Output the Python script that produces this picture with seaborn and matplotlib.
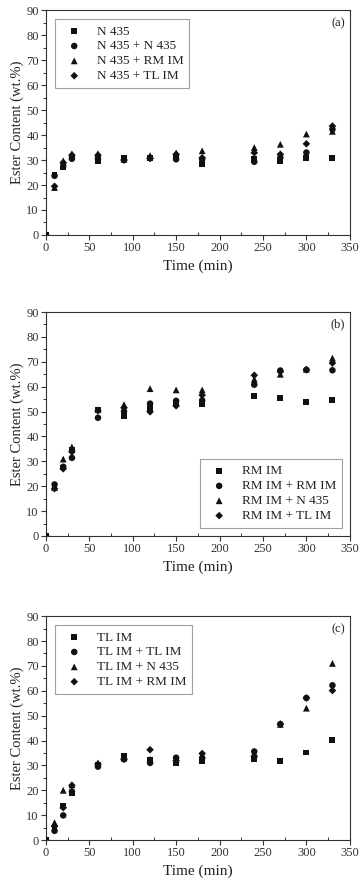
import pandas as pd
import numpy as np
import seaborn as sns
from matplotlib import pyplot as plt
from matplotlib.ticker import MultipleLocator

# sampling times (min), shared by every panel
time_min = [0, 10, 20, 30, 60, 90, 120, 150, 180, 240, 270, 300, 330]

# panel (a): N 435 based runs
a_labels = ['N 435', 'N 435 + N 435', 'N 435 + RM IM', 'N 435 + TL IM']
a_n435 = [0, 24.0, 27.0, 31.0, 29.5, 31.0, 30.7, 31.0, 28.3, 30.5, 29.5, 30.8, 30.9]
a_n435_n435 = [0, 23.7, 27.5, 30.5, 30.5, 30.0, 30.7, 30.3, 30.3, 29.3, 31.0, 33.0, 42.3]
a_n435_rmim = [0, 19.0, 29.7, 32.5, 32.5, 30.3, 31.8, 32.8, 33.7, 35.0, 36.3, 40.4, 41.5]
a_n435_tlim = [0, 19.5, 29.0, 32.0, 32.0, 30.0, 30.7, 32.3, 30.9, 32.9, 32.3, 36.5, 43.6]

# panel (b): RM IM based runs
b_labels = ['RM IM', 'RM IM + RM IM', 'RM IM + N 435', 'RM IM + TL IM']
b_rmim = [0, 19.5, 27.5, 34.5, 50.5, 48.1, 51.5, 53.0, 53.1, 56.4, 55.3, 53.7, 54.8]
b_rmim_rmim = [0, 20.7, 27.8, 31.4, 47.5, 50.0, 53.2, 54.3, 54.5, 60.8, 66.5, 66.8, 66.6]
b_rmim_n435 = [0, 19.5, 30.9, 35.8, 50.8, 52.8, 59.2, 58.7, 58.7, 63.0, 65.0, 67.0, 71.5]
b_rmim_tlim = [0, 19.0, 27.0, 33.8, 50.3, 51.5, 49.9, 52.3, 56.6, 64.6, 66.0, 66.8, 69.5]

# panel (c): TL IM based runs
c_labels = ['TL IM', 'TL IM + TL IM', 'TL IM + N 435', 'TL IM + RM IM']
c_tlim = [0, 4.5, 13.6, 18.7, 30.0, 33.9, 32.0, 30.8, 31.6, 32.7, 31.9, 35.2, 40.3]
c_tlim_tlim = [0, 3.7, 9.9, 19.5, 29.5, 32.5, 31.0, 33.1, 33.0, 35.6, 46.6, 57.1, 62.2]
c_tlim_n435 = [0, 7.0, 20.0, 22.2, 31.0, 33.0, 32.5, 32.5, 34.0, 35.0, 46.5, 53.0, 71.0]
c_tlim_rmim = [0, 5.5, 13.0, 22.0, 30.5, 32.5, 36.3, 32.0, 34.8, 33.5, 46.6, 57.1, 60.1]

panels = [
    ('(a)', a_labels, [a_n435, a_n435_n435, a_n435_rmim, a_n435_tlim], 'upper left'),
    ('(b)', b_labels, [b_rmim, b_rmim_rmim, b_rmim_n435, b_rmim_tlim], 'lower right'),
    ('(c)', c_labels, [c_tlim, c_tlim_tlim, c_tlim_n435, c_tlim_rmim], 'upper left'),
]

sns.set_theme(style='white')
plt.rcParams['font.family'] = ['Liberation Serif', 'DejaVu Serif']
plt.rcParams['text.color'] = '#222222'
plt.rcParams['axes.labelcolor'] = '#222222'

fig = plt.figure(figsize=(3.64, 8.85), dpi=100)
# axes boxes in figure fractions (left, bottom, width, height)
boxes = [(0.126, 0.7345, 0.835, 0.254),
         (0.126, 0.3944, 0.835, 0.253),
         (0.126, 0.0508, 0.835, 0.253)]
markers = ['s', 'o', '^', 'D']
sizes = [18, 22, 24, 15]

for (tag, labels, series, loc), box in zip(panels, boxes):
    ax = fig.add_axes(box)
    rows = []
    for lab, vals in zip(labels, series):
        rows.append(pd.DataFrame({'time': time_min, 'ester': vals, 'run': lab}))
    df = pd.concat(rows, ignore_index=True)

    for lab, m, s in zip(labels, markers, sizes):
        sns.scatterplot(data=df[df['run'] == lab], x='time', y='ester', marker=m, s=s,
                        color='#111111', edgecolor='none', label=lab, ax=ax, zorder=3)

    ax.set_xlim(0, 350)
    ax.set_ylim(0, 90)
    ax.xaxis.set_major_locator(MultipleLocator(50))
    ax.xaxis.set_minor_locator(MultipleLocator(25))
    ax.yaxis.set_major_locator(MultipleLocator(10))
    ax.yaxis.set_minor_locator(MultipleLocator(5))
    ax.tick_params(which='major', direction='out', length=3.5, width=0.8,
                   labelsize=9, colors='#333333', pad=1.5, bottom=True, left=True)
    ax.tick_params(axis='x', which='minor', direction='in', length=2, width=0.7,
                   bottom=True, colors='#333333')
    ax.tick_params(axis='y', which='minor', direction='out', length=2, width=0.7,
                   left=True, colors='#333333')
    for sp in ax.spines.values():
        sp.set_color('#333333')
        sp.set_linewidth(0.8)
    ax.set_xlabel('Time (min)', fontsize=11, labelpad=4)
    ax.set_ylabel('Ester Content (wt.%)', fontsize=10.5, labelpad=2)
    ax.text(0.985, 0.97, tag, transform=ax.transAxes, ha='right', va='top', fontsize=9)

    leg = ax.legend(loc=loc, fontsize=9.5, frameon=True, fancybox=False,
                    handletextpad=0.7, borderpad=0.45, labelspacing=0.2,
                    handlelength=2.0, borderaxespad=0.6 if loc == 'lower right' else 0.7)
    leg.get_frame().set_edgecolor('#888888')
    leg.get_frame().set_linewidth(0.8)

fig.savefig('out.png', dpi=100)
